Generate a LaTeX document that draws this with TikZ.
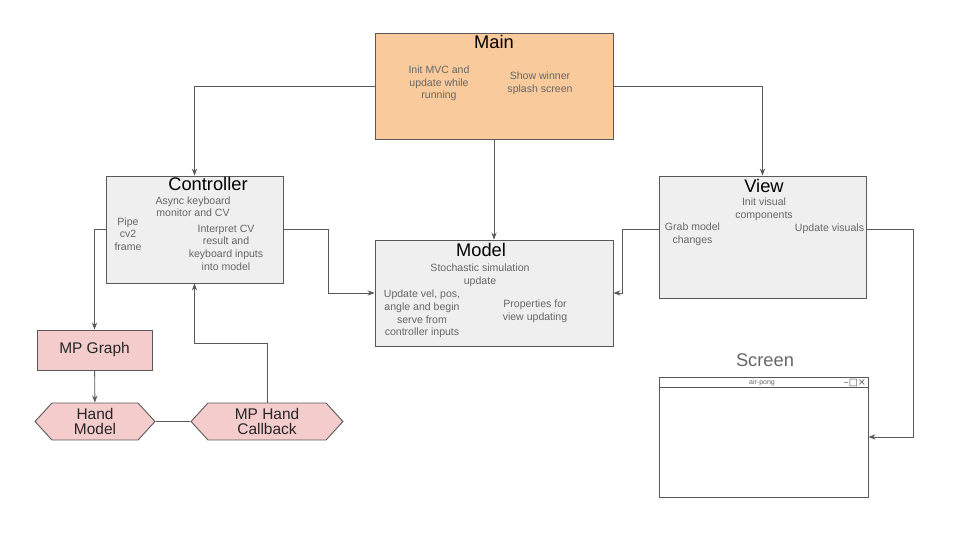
\documentclass[tikz,border=0pt]{standalone}
\usepackage{fontspec}
\setmainfont{Liberation Sans}
\newfontfamily\symfont{DejaVu Sans}
\usetikzlibrary{arrows.meta,shapes.symbols}
\definecolor{mainfill}{HTML}{F9CB9C}
\definecolor{boxfill}{HTML}{EFEFEF}
\definecolor{mpfill}{HTML}{F4CCCC}
\definecolor{edgegray}{HTML}{595959}
\definecolor{textgray}{HTML}{666666}
\begin{document}
\begin{tikzpicture}[x=0.02cm, y=-0.02cm,
		box/.style={draw=edgegray, line width=0.5pt, inner sep=0pt},
		title/.style={anchor=base, inner sep=0pt, font=\fontsize{10.4}{12}\selectfont},
		blurb/.style={inner sep=0pt, align=center, text=textgray, font=\fontsize{6}{7.2}\selectfont},
		mpbox/.style={box, fill=mpfill, align=center, text=black!85, font=\fontsize{8.8}{8.4}\selectfont},
		hexa/.style={mpbox, signal, signal to=east and west, signal pointer angle=95},
		wire/.style={draw=edgegray, line width=0.5pt},
		arr/.style={wire, -{Stealth[length=4pt, width=3pt]}}]
			\useasboundingbox (0,0) rectangle (960,540);
			\newcommand{\compBox}[6]{
				% draws one component box
				% args:
				%     node name
				%     center x, center y (px)
				%     width, height (cm)
				%     fill color
				\node[box, fill=#6, minimum width=#4cm, minimum height=#5cm] (#1) at (#2,#3) {};
			}
			%
			% the four components
			\compBox{main}{494}{86}{4.76}{2.12}{mainfill}
			\compBox{ctrl}{194.5}{229.5}{3.54}{2.14}{boxfill}
			\compBox{model}{494}{293}{4.76}{2.12}{boxfill}
			\compBox{view}{762.5}{237}{4.14}{2.44}{boxfill}
			% titles
			\node[title] (mainT) at (494,49) {Main};
			\node[title] (ctrlT) at (208,190.7) {Controller};
			\node[title] (modelT) at (481,257) {Model};
			\node[title] (viewT) at (764,192.7) {View};
			% what each part does
			\node[blurb] (mainA) at (439,83.5) {Init MVC and\\update while\\running};
			\node[blurb] (mainB) at (540,83.5) {Show winner\\splash screen};
			\node[blurb] (ctrlA) at (193,206.7) {Async keyboard\\monitor and CV};
			\node[blurb] (ctrlB) at (128,234) {Pipe\\cv2\\frame};
			\node[blurb] (ctrlC) at (226,247.5) {Interpret CV\\result and\\keyboard inputs\\into model};
			\node[blurb] (modelA) at (480,275) {Stochastic simulation\\update};
			\node[blurb] (modelB) at (422,314) {Update vel, pos,\\angle and begin\\serve from\\controller inputs};
			\node[blurb] (modelC) at (535,311) {Properties for\\view updating};
			\node[blurb] (viewA) at (764,209.5) {Init visual\\components};
			\node[blurb] (viewB) at (692.5,234.5) {Grab model\\changes};
			\node[blurb] (viewC) at (829.5,229) {Update visuals};
			%
			% mediapipe parts
			\node[mpbox, minimum width=2.3cm, minimum height=0.8cm] (mpg) at (94.5,350) {MP Graph};
			\node[hexa, minimum width=2.4cm, minimum height=0.74cm] (hand) at (95,421.5) {Hand\\Model};
			\node[hexa, minimum width=3.04cm, minimum height=0.74cm] (cb) at (267,421.5) {MP Hand\\Callback};
			%
			% the screen window
			\node[title, text=textgray] (scrT) at (765,366.7) {Screen};
			\node[box, minimum width=4.18cm, minimum height=2.4cm] (screen) at (763.5,437) {};
			\draw[wire, line width=0.4pt] ([yshift=-0.22cm]screen.north west) -- ([yshift=-0.22cm]screen.north east);
			\node[inner sep=0pt, text=textgray, font=\fontsize{4}{5}\selectfont] (winT) at (762,382.5) {air-pong};
			\node[inner sep=0pt, text=edgegray, font=\symfont\fontsize{5.5}{6}\selectfont] (winC) at (855,382.5) {–□×};
			%
			% connectors
			\draw[arr] (main.west) -| (ctrl.north);
			\draw[arr] (main.east) -| (view.north);
			\draw[arr] (main) -- (model);
			\draw[arr] (ctrl.east) -- ++(45,0) |- (model.west);
			\draw[arr] (view.west |- ctrl.east) -- ++(-36,0) |- (model.east);
			\draw[arr] (view.east |- ctrl.east) -- ++(47,0) |- (screen.east);
			\draw[arr] (ctrl.west) -| (mpg.north);
			\draw[arr] (mpg) -- (hand);
			\draw[wire] (hand.east) -- (cb.west);
			\draw[arr] (cb.north) -- ++(0,-59) -| (ctrl.south);
		\end{tikzpicture}
\end{document}
